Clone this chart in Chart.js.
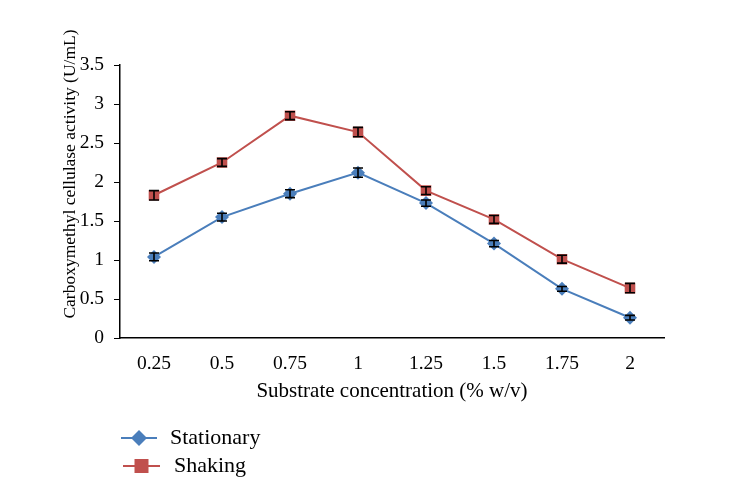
<!DOCTYPE html>
<html>
<head>
<meta charset="utf-8">
<script src="https://cdn.jsdelivr.net/npm/chart.js@4/dist/chart.umd.min.js"></script>
<style>
  body { margin: 0; background: #fff; }
  #wrap { width: 739px; height: 488px; }
</style>
</head>
<body>
<div id="wrap"><canvas id="chart" width="739" height="488"></canvas></div>
<script>
const categories = ['0.25', '0.5', '0.75', '1', '1.25', '1.5', '1.75', '2'];
const stationary = [1.04, 1.55, 1.85, 2.12, 1.73, 1.21, 0.63, 0.26];
const shaking = [1.83, 2.25, 2.85, 2.64, 1.89, 1.52, 1.01, 0.64];
const stationaryErr = [0.05, 0.05, 0.05, 0.06, 0.04, 0.04, 0.03, 0.03];
const shakingErr = [0.06, 0.05, 0.05, 0.06, 0.05, 0.05, 0.05, 0.06];
const yTicks = [0, 0.5, 1, 1.5, 2, 2.5, 3, 3.5];

const blue = '#4a7ebb';
const red = '#c0504d';
const serif = '"Liberation Serif", "Times New Roman", serif';

// error bars drawn through the scales
const errorBars = {
    id: 'errorBars',
    afterDatasetsDraw(chart) {
        const ctx = chart.ctx;
        const x = chart.scales.x, y = chart.scales.y;
        const errs = [stationaryErr, shakingErr];
        ctx.save();
        ctx.strokeStyle = '#000';
        ctx.lineWidth = 1.6;
        chart.data.datasets.forEach((ds, di) => {
            ds.data.forEach((v, i) => {
                const px = x.getPixelForValue(i);
                const top = y.getPixelForValue(v + errs[di][i]);
                const bot = y.getPixelForValue(v - errs[di][i]);
                ctx.beginPath();
                ctx.moveTo(px, top); ctx.lineTo(px, bot);
                ctx.moveTo(px - 5, top); ctx.lineTo(px + 5, top);
                ctx.moveTo(px - 5, bot); ctx.lineTo(px + 5, bot);
                ctx.stroke();
            });
        });
        ctx.restore();
    }
};

// y title and bottom legend
const extras = {
    id: 'extras',
    afterDraw(chart) {
        const ctx = chart.ctx;
        ctx.save();
        ctx.fillStyle = '#000';
        ctx.font = '17.5px ' + serif;
        ctx.textAlign = 'center';
        ctx.textBaseline = 'middle';
        ctx.translate(70, 174);
        ctx.rotate(-Math.PI / 2);
        ctx.fillText('Carboxymethyl cellulase activity (U/mL)', 0, 0);
        ctx.restore();

        const items = [
            { label: 'Stationary', color: blue, shape: 'diamond', x1: 121, x2: 157, y: 438, tx: 170 },
            { label: 'Shaking', color: red, shape: 'square', x1: 123, x2: 160, y: 466, tx: 174 }
        ];
        ctx.save();
        items.forEach(it => {
            ctx.strokeStyle = it.color;
            ctx.lineWidth = 2;
            ctx.beginPath();
            ctx.moveTo(it.x1, it.y); ctx.lineTo(it.x2, it.y);
            ctx.stroke();
            const cx = (it.x1 + it.x2) / 2;
            ctx.fillStyle = it.color;
            ctx.beginPath();
            if (it.shape === 'diamond') {
                ctx.moveTo(cx, it.y - 8); ctx.lineTo(cx + 8, it.y);
                ctx.lineTo(cx, it.y + 8); ctx.lineTo(cx - 8, it.y);
                ctx.closePath();
            } else {
                ctx.rect(cx - 7, it.y - 7, 14, 14);
            }
            ctx.fill();
            ctx.fillStyle = '#000';
            ctx.font = '22px ' + serif;
            ctx.textAlign = 'left';
            ctx.textBaseline = 'middle';
            ctx.fillText(it.label, it.tx, it.y);
        });
        ctx.restore();
    }
};

new Chart(document.getElementById('chart'), {
    type: 'line',
    data: {
        labels: categories,
        datasets: [
            {
                label: 'Stationary',
                data: stationary,
                borderColor: blue,
                backgroundColor: blue,
                borderWidth: 2,
                pointStyle: 'rectRot',
                pointRadius: 7,
                pointBorderWidth: 0,
                tension: 0
            },
            {
                label: 'Shaking',
                data: shaking,
                borderColor: red,
                backgroundColor: red,
                borderWidth: 2,
                pointStyle: 'rect',
                pointRadius: 7.5,
                pointBorderWidth: 0,
                tension: 0
            }
        ]
    },
    options: {
        responsive: false,
        animation: false,
        layout: { padding: { left: 0, right: 75, top: 65, bottom: 84 } },
        plugins: { legend: { display: false }, tooltip: { enabled: false } },
        scales: {
            x: {
                offset: true,
                grid: { display: false, drawOnChartArea: false, offset: true, tickLength: 6, color: '#000' },
                border: { color: '#000', width: 1.5 },
                ticks: { color: '#000', font: { family: serif, size: 19.5 }, padding: 8 },
                title: { display: true, text: 'Substrate concentration (% w/v)', color: '#000', font: { family: serif, size: 21 }, padding: 0 },
                afterFit(scale) { scale.height = 66; }
            },
            y: {
                min: 0,
                max: 3.5,
                afterBuildTicks(scale) { scale.ticks = yTicks.map(v => ({ value: v })); },
                grid: { drawOnChartArea: false, tickLength: 6, color: '#000' },
                border: { color: '#000', width: 1.5 },
                ticks: { color: '#000', font: { family: serif, size: 19.5 }, padding: 10, callback: v => String(v) },
                afterFit(scale) { scale.width = 120; }
            }
        }
    },
    plugins: [errorBars, extras]
});
</script>
</body>
</html>
